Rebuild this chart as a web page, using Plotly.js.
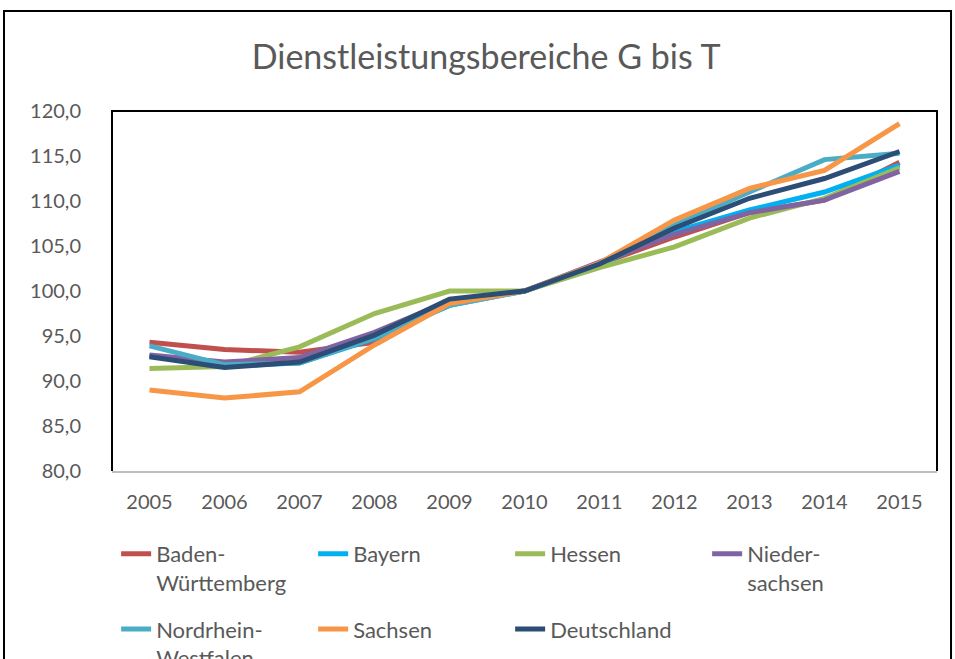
<!DOCTYPE html>
<html>
<head>
<meta charset="utf-8">
<script src="https://cdn.plot.ly/plotly-3.0.1.min.js"></script>
<style>html,body{margin:0;padding:0;background:#fff;}#chart{width:955px;height:659px;}</style>
</head>
<body>
<div id="chart"></div>
<script>
var years = ['2005','2006','2007','2008','2009','2010','2011','2012','2013','2014','2015'];
var names = ['Baden-<br>Württemberg','Bayern','Hessen','Nieder-<br>sachsen','Nordrhein-<br>Westfalen','Sachsen','Deutschland'];
var colors = ['#C0504D','#00B0F0','#9BBB59','#8064A2','#4BACC6','#F79646','#2C4D75'];
var badenWuerttemberg = [94.3, 93.5, 93.2, 94.3, 98.9, 100, 103.0, 106.0, 108.7, 110.1, 114.3];
var bayern            = [92.8, 91.7, 92.0, 94.7, 98.4, 100, 103.0, 106.6, 109.0, 111.0, 114.0];
var hessen            = [91.4, 91.6, 93.8, 97.5, 100.0, 100, 102.6, 104.9, 108.1, 110.3, 113.7];
var niedersachsen     = [92.9, 92.1, 92.6, 95.4, 98.9, 100, 103.2, 106.3, 108.7, 110.1, 113.3];
var nordrheinWestfalen= [93.9, 91.8, 92.0, 94.8, 98.4, 100, 103.0, 107.3, 111.0, 114.6, 115.3];
var sachsen           = [89.0, 88.1, 88.8, 94.0, 98.6, 100, 103.1, 107.9, 111.4, 113.4, 118.6];
var deutschland       = [92.7, 91.5, 92.1, 95.1, 99.1, 100, 103.0, 107.0, 110.3, 112.5, 115.5];
var series = [badenWuerttemberg, bayern, hessen, niedersachsen, nordrheinWestfalen, sachsen, deutschland];
var legendRow = ['legend','legend','legend','legend','legend2','legend2','legend2'];
var yTicks = [80,85,90,95,100,105,110,115,120];

var traces = series.map(function(s, i){
  return {x: years, y: s, type:'scatter', mode:'lines', name: names[i], legend: legendRow[i],
          line:{color: colors[i], width:5}};
});

var legendCommon = {orientation:'h', x:0.005, xanchor:'left', yanchor:'top',
          entrywidth:152, entrywidthmode:'pixels', valign:'top', traceorder:'normal',
          bgcolor:'rgba(0,0,0,0)', font:{size:22, color:'#595959'}};

var layout = {
  width:955, height:659,
  margin:{l:112, r:18, t:111, b:188, autoexpand:false},
  paper_bgcolor:'#fff', plot_bgcolor:'#fff',
  separators:',.',
  font:{family:'Lato, "Open Sans", sans-serif', color:'#595959', size:20},
  title:{text:'Dienstleistungsbereiche G bis T', font:{size:34, color:'#595959', family:'Lato, sans-serif'},
         xref:'container', x:0.509, xanchor:'center', yref:'container', y:0.9135, yanchor:'middle'},
  showlegend:true,
  legend:Object.assign({}, legendCommon, {y:-0.172}),
  legend2:Object.assign({}, legendCommon, {y:-0.381}),
  xaxis:{type:'category', range:[-0.5,10.5], showgrid:false, zeroline:false, automargin:false,
         showline:true, linecolor:'#BFBFBF', linewidth:2, ticks:'', ticklabelstandoff:12,
         tickfont:{size:20, color:'#595959'}, fixedrange:true},
  yaxis:{range:[80,120], tickvals:yTicks, tickformat:'.1f', showgrid:false, zeroline:false, automargin:false,
         showline:false, ticks:'', ticklabelstandoff:30,
         tickfont:{size:20, color:'#595959'}, fixedrange:true},
  shapes:[
    {type:'path', xref:'paper', yref:'paper', path:'M0,0 L0,1 L1,1 L1,0', line:{color:'#000', width:2}, layer:'above'},
    {type:'rect', xref:'paper', yref:'paper', x0:-0.1309, x1:1.0170, y0:-0.6, y1:1.2778, line:{color:'#000', width:2}, layer:'below'}
  ]
};

Plotly.newPlot('chart', traces, layout, {displayModeBar:false, staticPlot:true});
</script>
</body>
</html>
